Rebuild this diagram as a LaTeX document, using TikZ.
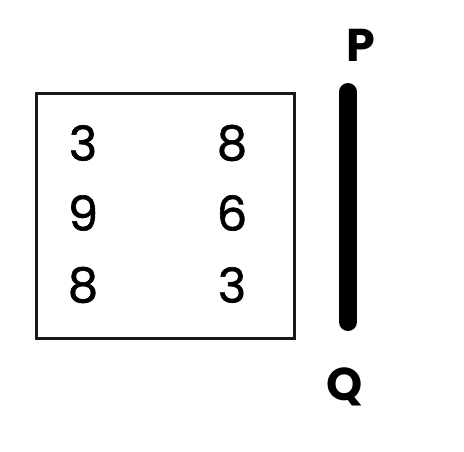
\documentclass[tikz,border=0pt]{standalone}
\usepackage{fontspec}
\setmainfont{Poppins}
\newfontfamily\digitfont{Poppins}[FakeBold=1.3]
\begin{document}
\begin{tikzpicture}[x=1pt,y=-1pt,
  digit/.style={font=\digitfont\fontsize{48}{48}\selectfont, inner sep=0pt, anchor=center},
  letter/.style={font=\fontsize{46}{46}\selectfont\bfseries, inner sep=0pt, anchor=center}]
\useasboundingbox (0,0) rectangle (464,452);
\node[draw=black!90, line width=3.2pt, minimum width=258pt, minimum height=245pt, inner sep=0pt, anchor=north west] (box) at (35,92) {};
\node[digit] (a1) at (83,143) {3};
\node[digit] (b1) at (232,143) {8};
\node[digit] (a2) at (83,213) {9};
\node[digit] (b2) at (232,213) {6};
\node[digit] (a3) at (83,285) {8};
\node[digit] (b3) at (232,285) {3};
\coordinate (top) at (348,92);
\coordinate (bot) at (348,322);
\draw[line width=18pt, line cap=round] (top) -- (bot);
\node[letter] (P) at (361,45) {P};
\node[letter] (Q) at (345,387) {Q};
\end{tikzpicture}
\end{document}
